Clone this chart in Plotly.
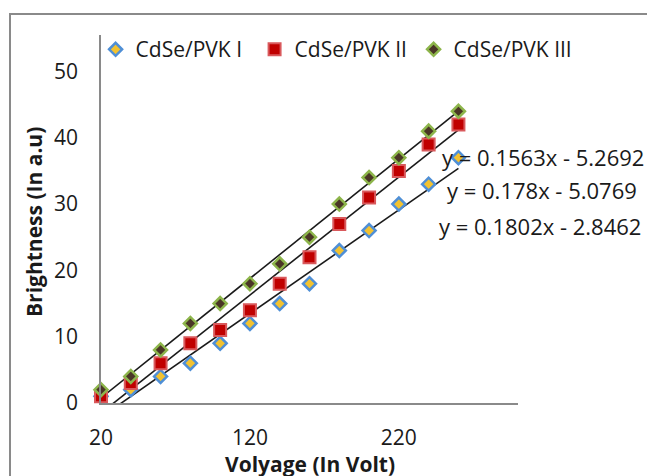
import numpy as np
import plotly.graph_objects as go

# ---- data ----
voltage = [20, 40, 60, 80, 100, 120, 140, 160, 180, 200, 220, 240, 260]
pvk1 = [1, 2, 4, 6, 9, 12, 15, 18, 23, 26, 30, 33, 37]
pvk2 = [1, 3, 6, 9, 11, 14, 18, 22, 27, 31, 35, 39, 42]
pvk3 = [2, 4, 8, 12, 15, 18, 21, 25, 30, 34, 37, 41, 44]
series_names = ["CdSe/PVK I", "CdSe/PVK II", "CdSe/PVK III"]
equations = ["y = 0.1563x - 5.2692", "y = 0.178x - 5.0769", "y = 0.1802x - 2.8462"]
x_ticks = [20, 120, 220]
y_ticks = [0, 10, 20, 30, 40, 50]
x_title = "Volyage (In Volt)"
y_title = "Brightness (In a.u)"

FONT = "Open Sans"
# page body has an 8px margin; figure sized so the page is exactly 655x476
FIG_W, FIG_H = 647, 468
L, T, W, H = 93, 27, 417, 368  # plot area in figure px


def page_to_paper(px, py):
    return (px - 8 - L) / W, (T + H - (py - 8)) / H


fig = go.Figure()

# trendlines (least-squares fits of each series)
x_arr = np.array(voltage, dtype=float)
for ys in (pvk1, pvk2, pvk3):
    m, b = np.polyfit(x_arr, np.array(ys, dtype=float), 1)
    fig.add_trace(go.Scatter(
        x=[voltage[0], voltage[-1]], y=[m * voltage[0] + b, m * voltage[-1] + b],
        mode="lines", line=dict(color="#1a1a1a", width=1.6),
        showlegend=False, hoverinfo="skip"))

styles = [
    dict(symbol="diamond", size=10, color="#f2c230", line=dict(color="#4f8fd6", width=2.5)),
    dict(symbol="square", size=12, color="#c00000", line=dict(color="#d9595c", width=2)),
    dict(symbol="diamond", size=10, color="#4a3626", line=dict(color="#8db54b", width=2.5)),
]
for name, ys, st in zip(series_names, (pvk1, pvk2, pvk3), styles):
    fig.add_trace(go.Scatter(x=voltage, y=ys, mode="markers", name=name,
                             marker=st, cliponaxis=False))

# trendline equations (positions in page px)
eq_pos = [(440, 157), (445, 190), (437, 226)]
for txt, (px, py) in zip(equations, eq_pos):
    ax_, ay_ = page_to_paper(px, py)
    fig.add_annotation(text=txt, xref="paper", yref="paper", x=ax_, y=ay_,
                       xanchor="left", yanchor="middle", showarrow=False,
                       font=dict(family=FONT, size=22, color="#1a1a1a"))

# axis titles
_, ty = page_to_paper(0, 464)
fig.add_annotation(text="<b>" + x_title + "</b>", xref="paper", yref="paper",
                   x=0.5, y=ty, xanchor="center", yanchor="middle", showarrow=False,
                   font=dict(family=FONT, size=21, color="#1a1a1a"))
tx, tyy = page_to_paper(34, 222)
fig.add_annotation(text="<b>" + y_title + "</b>", xref="paper", yref="paper",
                   x=tx, y=tyy, xanchor="center", yanchor="middle", showarrow=False,
                   textangle=-90, font=dict(family=FONT, size=21, color="#1a1a1a"))

# outer chart border
bx0, by1 = page_to_paper(10, 14)
fig.add_shape(type="rect", xref="paper", yref="paper",
              x0=bx0, x1=1.6, y0=-0.5, y1=by1,
              line=dict(color="#8a8a8a", width=2), fillcolor="rgba(0,0,0,0)", layer="below")

fig.update_layout(
    width=FIG_W, height=FIG_H,
    margin=dict(l=L, r=FIG_W - L - W, t=T, b=FIG_H - T - H),
    paper_bgcolor="white", plot_bgcolor="white",
    font=dict(family=FONT, size=21, color="#1a1a1a"),
    showlegend=True,
    legend=dict(orientation="h", x=-0.013, y=1.016, xanchor="left", yanchor="top",
                bgcolor="rgba(0,0,0,0)", font=dict(family=FONT, size=21),
                itemwidth=30, tracegroupgap=0, entrywidth=114, entrywidthmode="pixels"),
    xaxis=dict(range=[20, 300], tickvals=x_ticks, ticktext=[str(v) for v in x_ticks],
               showgrid=False, zeroline=False, showline=True, linecolor="#8a8a8a",
               linewidth=1.5, ticks="", ticklabelstandoff=15, automargin=False),
    yaxis=dict(range=[0, 55.5], tickvals=y_ticks, ticktext=[str(v) for v in y_ticks],
               showgrid=False, zeroline=False, showline=True, linecolor="#8a8a8a",
               linewidth=1.5, ticks="", ticklabelstandoff=17, automargin=False),
)

fig.write_html("out.html")
